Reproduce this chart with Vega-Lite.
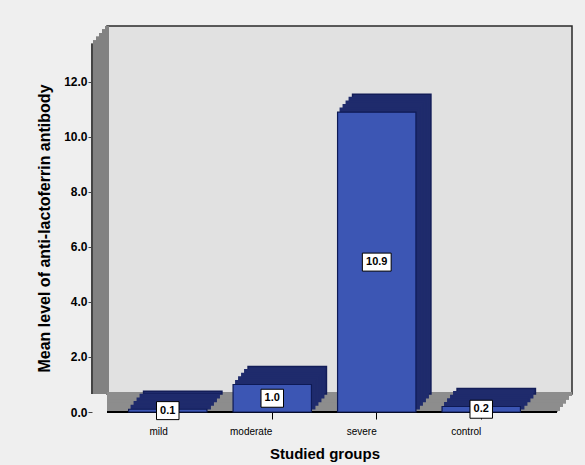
{
  "$schema": "https://vega.github.io/schema/vega-lite/v6.json",
  "width": 465,
  "height": 368,
  "autosize": {"type": "none"},
  "padding": {"left": 107, "top": 26, "right": 13, "bottom": 71},
  "background": "#efefef",
  "config": {
    "font": "Liberation Sans",
    "view": {"fill": "#e1e1e1", "stroke": "#2a2a2a", "strokeWidth": 1.5}
  },
  "data": {
    "values": [
      {"group": "mild", "value": 0.1},
      {"group": "moderate", "value": 1.0},
      {"group": "severe", "value": 10.9},
      {"group": "control", "value": 0.2}
    ]
  },
  "layer": [
    {"mark": {"type": "rule", "stroke": "#828282", "strokeWidth": 4, "xOffset": 0, "yOffset": 0}, "encoding": {"x": {"value": 0}}},
    {"mark": {"type": "rule", "stroke": "#828282", "strokeWidth": 4, "xOffset": -3, "yOffset": 3.6}, "encoding": {"x": {"value": 0}}},
    {"mark": {"type": "rule", "stroke": "#828282", "strokeWidth": 4, "xOffset": -6, "yOffset": 7.2}, "encoding": {"x": {"value": 0}}},
    {"mark": {"type": "rule", "stroke": "#828282", "strokeWidth": 4, "xOffset": -9, "yOffset": 10.8}, "encoding": {"x": {"value": 0}}},
    {"mark": {"type": "rule", "stroke": "#828282", "strokeWidth": 4, "xOffset": -12, "yOffset": 14.4}, "encoding": {"x": {"value": 0}}},
    {"mark": {"type": "rule", "stroke": "#828282", "strokeWidth": 4, "xOffset": -14, "yOffset": 17}, "encoding": {"x": {"value": 0}}},
    {"mark": {"type": "rule", "stroke": "#8d8d8d", "strokeWidth": 4, "xOffset": 0, "yOffset": 1}, "encoding": {"y": {"value": 367}}},
    {"mark": {"type": "rule", "stroke": "#8d8d8d", "strokeWidth": 4, "xOffset": -3, "yOffset": 4.6}, "encoding": {"y": {"value": 367}}},
    {"mark": {"type": "rule", "stroke": "#8d8d8d", "strokeWidth": 4, "xOffset": -6, "yOffset": 8.2}, "encoding": {"y": {"value": 367}}},
    {"mark": {"type": "rule", "stroke": "#8d8d8d", "strokeWidth": 4, "xOffset": -9, "yOffset": 11.8}, "encoding": {"y": {"value": 367}}},
    {"mark": {"type": "rule", "stroke": "#8d8d8d", "strokeWidth": 4, "xOffset": -12, "yOffset": 15.4}, "encoding": {"y": {"value": 367}}},
    {"mark": {"type": "rule", "stroke": "#8d8d8d", "strokeWidth": 3, "xOffset": -14, "yOffset": 17}, "encoding": {"y": {"value": 367}}},
    {"mark": {"type": "rule", "stroke": "#444444", "strokeWidth": 1.5, "xOffset": -15, "yOffset": 18}, "encoding": {"x": {"value": 0}}},
    {"mark": {"type": "rule", "stroke": "#000000", "strokeWidth": 2, "xOffset": -15, "yOffset": 18}, "encoding": {"y": {"value": 368}}},
    {
      "mark": {"type": "bar", "fill": "#1f2b6c", "stroke": "#131d58", "strokeWidth": 1.5, "xOffset": 0, "yOffset": 0},
      "encoding": {
        "x": {"field": "group", "type": "nominal", "sort": null, "scale": {"paddingInner": 0.25, "paddingOuter": 0.35}},
        "y": {"field": "value", "type": "quantitative", "scale": {"domain": [0, 13.38], "nice": false}}
      }
    },
    {
      "mark": {"type": "bar", "fill": "#1f2b6c", "stroke": "#1f2b6c", "strokeWidth": 2, "xOffset": -3, "yOffset": 3.6},
      "encoding": {
        "x": {"field": "group", "type": "nominal", "sort": null},
        "y": {"field": "value", "type": "quantitative"}
      }
    },
    {
      "mark": {"type": "bar", "fill": "#1f2b6c", "stroke": "#1f2b6c", "strokeWidth": 2, "xOffset": -6, "yOffset": 7.2},
      "encoding": {
        "x": {"field": "group", "type": "nominal", "sort": null},
        "y": {"field": "value", "type": "quantitative"}
      }
    },
    {
      "mark": {"type": "bar", "fill": "#1f2b6c", "stroke": "#1f2b6c", "strokeWidth": 2, "xOffset": -9, "yOffset": 10.8},
      "encoding": {
        "x": {"field": "group", "type": "nominal", "sort": null},
        "y": {"field": "value", "type": "quantitative"}
      }
    },
    {
      "mark": {"type": "bar", "fill": "#1f2b6c", "stroke": "#1f2b6c", "strokeWidth": 2, "xOffset": -12, "yOffset": 14.4},
      "encoding": {
        "x": {"field": "group", "type": "nominal", "sort": null},
        "y": {"field": "value", "type": "quantitative"}
      }
    },
    {
      "mark": {"type": "bar", "fill": "#3c56b4", "stroke": "#0e1a55", "strokeWidth": 1.2, "xOffset": -15, "yOffset": 18},
      "encoding": {
        "x": {
          "field": "group", "type": "nominal", "sort": null,
          "axis": {
            "title": "Studied groups", "titleFontSize": 15, "titleFontWeight": "bold", "titlePadding": 10, "titleColor": "#000",
            "labelFontSize": 10, "labelAngle": 0, "labelPadding": 12, "labelColor": "#000",
            "tickSize": 7, "tickColor": "#000", "domain": false, "offset": 18, "position": -15
          }
        },
        "y": {
          "field": "value", "type": "quantitative",
          "axis": {
            "title": "Mean level of anti-lactoferrin antibody", "titleFontSize": 16, "titleFontWeight": "bold", "titlePadding": 11, "titleColor": "#000",
            "values": [0, 2, 4, 6, 8, 10, 12], "format": ".1f", "grid": false, "domain": false,
            "labelFontSize": 12, "labelFontWeight": "bold", "labelPadding": 1, "labelColor": "#000",
            "tickSize": 4, "tickColor": "#444", "offset": 15, "position": 18, "zindex": 1
          }
        }
      }
    },
    {
      "mark": {"type": "point", "size": 324, "filled": true, "fill": "#ffffff", "stroke": "#000000", "strokeWidth": 1, "opacity": 1, "xOffset": -15, "yOffset": 18},
      "transform": [{"calculate": "datum.value / 2", "as": "mid"}],
      "encoding": {
        "x": {"field": "group", "type": "nominal", "sort": null},
        "y": {"field": "mid", "type": "quantitative"},
        "shape": {"condition": {"test": "datum.value >= 10", "value": "M-1.6,-1H1.6V1H-1.6Z"}, "value": "M-1.25,-1H1.25V1H-1.25Z"}
      }
    },
    {
      "mark": {"type": "text", "fontSize": 11, "fontWeight": "bold", "color": "#000", "baseline": "middle", "align": "center", "xOffset": -15, "yOffset": 18},
      "transform": [{"calculate": "datum.value / 2", "as": "mid"}],
      "encoding": {
        "x": {"field": "group", "type": "nominal", "sort": null},
        "y": {"field": "mid", "type": "quantitative"},
        "text": {"field": "value", "type": "quantitative", "format": ".1f"}
      }
    }
  ]
}
